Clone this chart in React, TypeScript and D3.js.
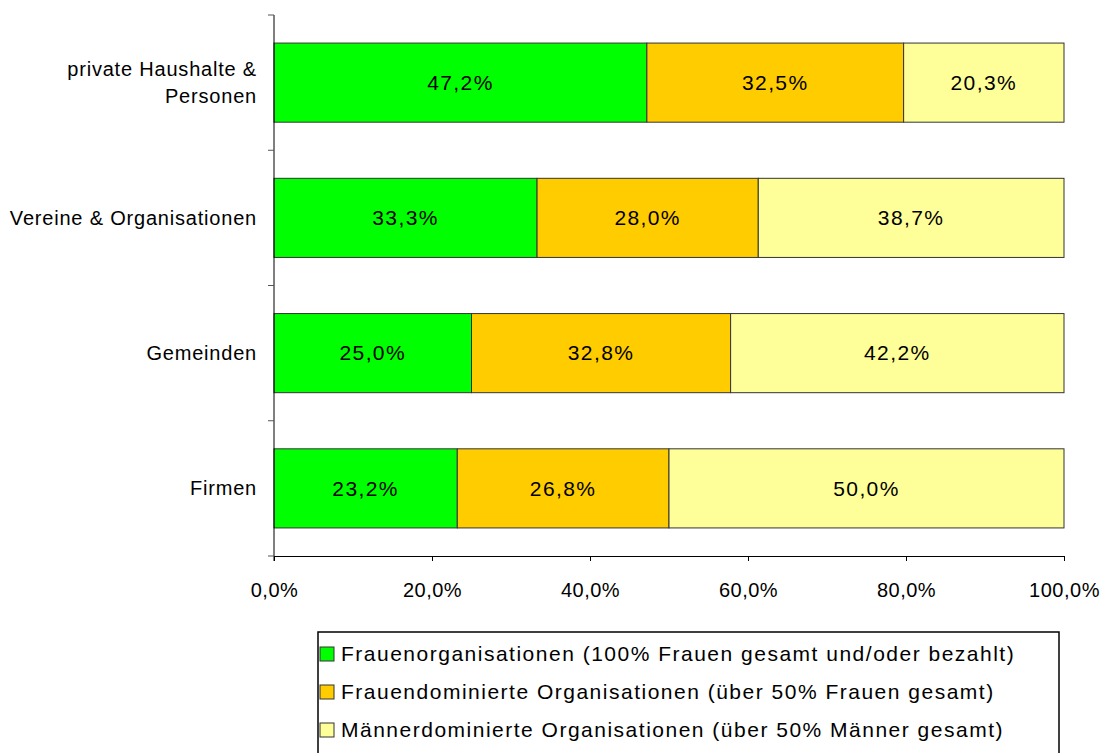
import React, { useEffect, useRef } from 'react';
import * as d3 from 'd3';

const WIDTH = 1101;
const HEIGHT = 753;
const PLOT = { left: 274, right: 1064, top: 15, bottom: 556 };

const categories = ['private Haushalte & Personen', 'Vereine & Organisationen', 'Gemeinden', 'Firmen'];
const categoryLines: Record<string, string[]> = {
  'private Haushalte & Personen': ['private Haushalte &', 'Personen'],
};
const seriesNames = [
  'Frauenorganisationen (100% Frauen gesamt und/oder bezahlt)',
  'Frauendominierte Organisationen (über 50% Frauen gesamt)',
  'Männerdominierte Organisationen (über 50% Männer gesamt)',
];
const frauenOrg = [47.2, 33.3, 25.0, 23.2];
const frauenDom = [32.5, 28.0, 32.8, 26.8];
const maennerDom = [20.3, 38.7, 42.2, 50.0];
const xTicks = [0, 20, 40, 60, 80, 100];
const colors = ['#00FF00', '#FFCC00', '#FFFF99'];

const fmt = (v: number) => v.toFixed(1).replace('.', ',') + '%';

export default function App() {
  const ref = useRef<SVGSVGElement>(null);

  useEffect(() => {
    if (!ref.current) return;
    const svg = d3.select(ref.current);
    svg.selectAll('*').remove();

    const series = [frauenOrg, frauenDom, maennerDom];
    const rows = categories.map((c, i) => ({ cat: c, vals: series.map((s) => s[i]) }));

    const x = d3.scaleLinear().domain([0, 100]).range([PLOT.left, PLOT.right]);
    const y = d3
      .scaleBand()
      .domain(categories)
      .range([PLOT.top, PLOT.bottom])
      .paddingInner(0.415)
      .paddingOuter(0.2075);

    const font = 'Liberation Sans, Arial, sans-serif';

    // bars + value labels
    rows.forEach((r) => {
      let acc = 0;
      r.vals.forEach((v, k) => {
        const x0 = x(acc);
        const x1 = x(acc + v);
        svg
          .append('rect')
          .attr('x', x0)
          .attr('y', y(r.cat)!)
          .attr('width', x1 - x0)
          .attr('height', y.bandwidth())
          .attr('fill', colors[k])
          .attr('stroke', '#333')
          .attr('stroke-width', 1);
        svg
          .append('text')
          .attr('x', (x0 + x1) / 2)
          .attr('y', y(r.cat)! + y.bandwidth() / 2)
          .attr('dy', '0.35em')
          .attr('text-anchor', 'middle')
          .style('font-family', font)
          .style('font-size', '21px')
          .style('letter-spacing', '1.4px')
          .attr('fill', '#000')
          .text(fmt(v));
        acc += v;
      });
    });

    // y axis line and ticks between categories
    svg
      .append('line')
      .attr('x1', PLOT.left)
      .attr('x2', PLOT.left)
      .attr('y1', PLOT.top)
      .attr('y2', PLOT.bottom + 5)
      .attr('stroke', '#000');
    const step = y.step();
    d3.range(categories.length + 1).forEach((i) => {
      const yy = PLOT.top + i * step;
      svg
        .append('line')
        .attr('x1', PLOT.left - 6)
        .attr('x2', PLOT.left)
        .attr('y1', yy)
        .attr('y2', yy)
        .attr('stroke', '#555');
    });

    // category labels
    categories.forEach((c) => {
      const lines = categoryLines[c] || [c];
      const cy = y(c)! + y.bandwidth() / 2;
      const lh = 27;
      lines.forEach((ln, j) => {
        svg
          .append('text')
          .attr('x', PLOT.left - 17)
          .attr('y', cy + (j - (lines.length - 1) / 2) * lh)
          .attr('dy', '0.35em')
          .attr('text-anchor', 'end')
          .style('font-family', font)
          .style('font-size', '20px')
          .style('letter-spacing', '0.8px')
          .text(ln);
      });
    });

    // x axis
    const xAxis = d3
      .axisBottom(x)
      .tickValues(xTicks)
      .tickSize(5)
      .tickSizeOuter(0)
      .tickFormat((d) => fmt(d as number));
    const gx = svg
      .append('g')
      .attr('transform', `translate(0, ${PLOT.bottom})`)
      .call(xAxis);
    gx.select('.domain').attr('stroke', '#000');
    gx.selectAll('.tick line').attr('stroke', '#000');
    gx.selectAll('.tick text')
      .attr('y', 27)
      .style('font-family', font)
      .style('font-size', '20px')
      .style('letter-spacing', '0.5px')
      .attr('fill', '#000');

    // legend
    const lg = svg.append('g');
    lg.append('rect')
      .attr('x', 318)
      .attr('y', 632)
      .attr('width', 741)
      .attr('height', 140)
      .attr('fill', '#fff')
      .attr('stroke', '#000')
      .attr('stroke-width', 1.5);
    seriesNames.forEach((name, k) => {
      const cy = 654 + k * 38;
      lg.append('rect')
        .attr('x', 320)
        .attr('y', cy - 7)
        .attr('width', 14)
        .attr('height', 14)
        .attr('fill', colors[k])
        .attr('stroke', '#333');
      lg.append('text')
        .attr('x', 341)
        .attr('y', cy)
        .attr('dy', '0.35em')
        .style('font-family', font)
        .style('font-size', '21px')
        .style('letter-spacing', '1.5px')
        .text(name);
    });
  }, []);

  return (
    <svg
      ref={ref}
      width={WIDTH}
      height={HEIGHT}
      style={{ position: 'absolute', left: 0, top: 0, background: '#fff' }}
    />
  );
}
